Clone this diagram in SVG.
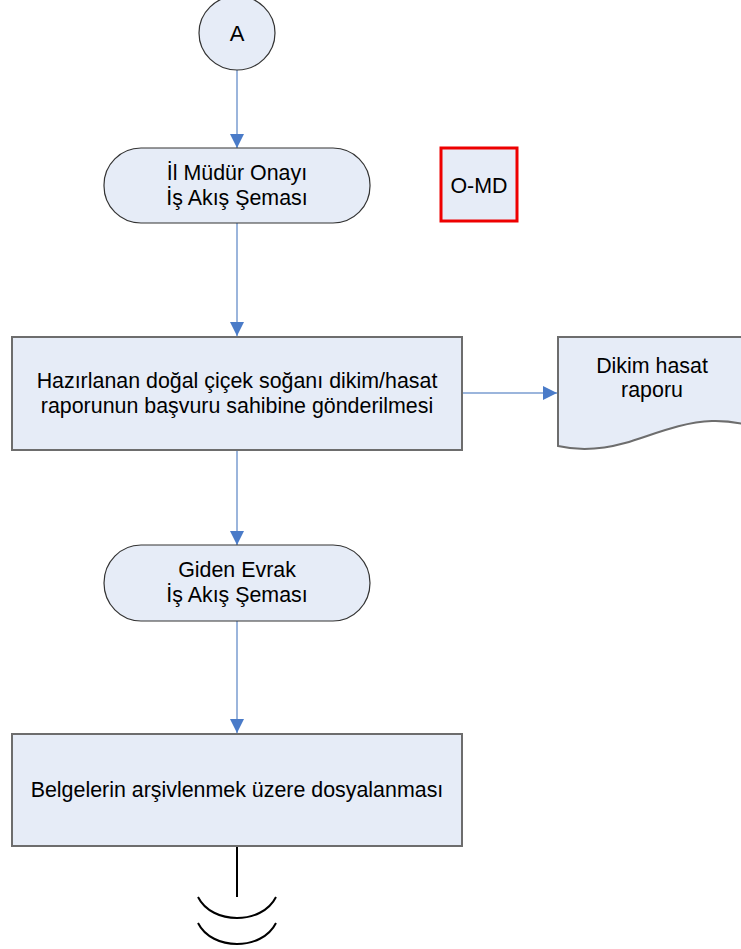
<svg xmlns="http://www.w3.org/2000/svg" width="741" height="949" viewBox="0 0 741 949">
<style>
.box{fill:#e6ecf7;stroke:#6d6d6d;stroke-width:2}
.txt{font-family:"Liberation Sans",Arial,sans-serif;font-size:21.4px;fill:#000;text-anchor:middle}
.con{stroke:#9bb5dc;stroke-width:2;fill:none}
.blk{stroke:#000;stroke-width:2;fill:none}
</style>
<defs>
<marker id="arr" viewBox="0 0 14 14" refX="14" refY="7" markerWidth="14" markerHeight="14" markerUnits="userSpaceOnUse" orient="auto">
<path d="M0,0 L14,7 L0,14 Z" fill="#4a7bc8"/>
</marker>
</defs>
<g id="connectors">
<line class="con" x1="237" y1="70" x2="237" y2="148" marker-end="url(#arr)"/>
<line class="con" x1="237" y1="223" x2="237" y2="336" marker-end="url(#arr)"/>
<line class="con" x1="463" y1="393" x2="557" y2="393" marker-end="url(#arr)"/>
<line class="con" x1="237" y1="451" x2="237" y2="545" marker-end="url(#arr)"/>
<line class="con" x1="237" y1="620" x2="237" y2="733" marker-end="url(#arr)"/>
</g>
<g id="nodeA">
<ellipse class="box" cx="237" cy="33" rx="38" ry="37" style="stroke:#333;stroke-width:1.2"/>
<text class="txt" x="237" y="41" style="font-size:22px">A</text>
</g>
<g id="node-il-mudur">
<rect class="box" x="104" y="148" width="266" height="75" rx="37" ry="37" style="stroke:#333;stroke-width:1.2"/>
<text class="txt" x="237" y="180">İl Müdür Onayı</text>
<text class="txt" x="237" y="205">İş Akış Şeması</text>
</g>
<g id="node-omd">
<rect x="441" y="148" width="76" height="73" fill="#e6ecf7" stroke="#ee0000" stroke-width="3"/>
<text class="txt" x="479" y="193">O-MD</text>
</g>
<g id="node-hazirlanan">
<rect class="box" x="12" y="337" width="450" height="113"/>
<text class="txt" x="237" y="388">Hazırlanan doğal çiçek soğanı dikim/hasat</text>
<text class="txt" x="237" y="413">raporunun başvuru sahibine gönderilmesi</text>
</g>
<g id="node-dikim">
<path class="box" d="M558,337 H800 V445 C775,432 745,420 712,421 C680,422 650,436 625,443 C600,450 580,451 558,446 Z"/>
<text class="txt" x="652" y="373">Dikim hasat</text>
<text class="txt" x="652" y="397">raporu</text>
</g>
<g id="node-giden">
<rect class="box" x="104" y="545" width="266" height="76" rx="37" ry="38" style="stroke:#333;stroke-width:1.2"/>
<text class="txt" x="237" y="577">Giden Evrak</text>
<text class="txt" x="237" y="602">İş Akış Şeması</text>
</g>
<g id="node-belgeler">
<rect class="box" x="12" y="734" width="450" height="112"/>
<text class="txt" x="237" y="797">Belgelerin arşivlenmek üzere dosyalanması</text>
</g>
<g id="end-symbol">
<line class="blk" x1="237" y1="847" x2="237" y2="897"/>
<path class="blk" d="M198,897 C212,925 262,925 276,897"/>
<path class="blk" d="M198,923 C212,951 262,951 276,923"/>
</g>
</svg>
